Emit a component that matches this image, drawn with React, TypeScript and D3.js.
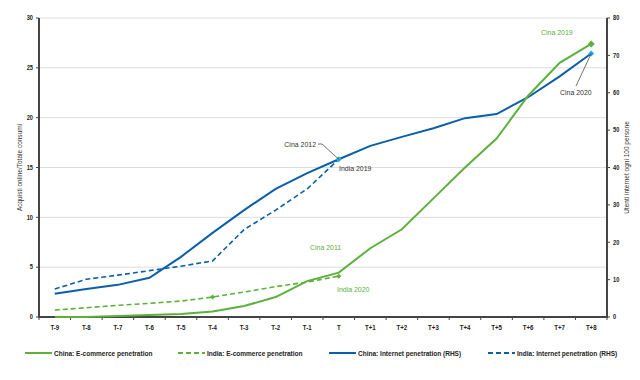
import React from "react";
import * as d3 from "d3";

const categories = ["T-9","T-8","T-7","T-6","T-5","T-4","T-3","T-2","T-1","T","T+1","T+2","T+3","T+4","T+5","T+6","T+7","T+8"];
const chinaEcom = [0, 0, 0.1, 0.2, 0.3, 0.55, 1.1, 2.0, 3.6, 4.45, 6.9, 8.8, 11.9, 15.0, 17.9, 22.2, 25.5, 27.4];
const indiaEcom: (number | null)[] = [0.7, 0.93, 1.17, 1.37, 1.6, 2.0, 2.5, 3.05, 3.5, 4.1, null, null, null, null, null, null, null, null];
const chinaNet = [6.2, 7.5, 8.6, 10.5, 16.1, 22.5, 28.6, 34.3, 38.5, 42.2, 45.8, 48.2, 50.5, 53.2, 54.3, 58.8, 64.4, 70.5];
const indiaNet: (number | null)[] = [7.5, 10.1, 11.2, 12.4, 13.6, 15.0, 23.4, 28.6, 34.3, 42.2, null, null, null, null, null, null, null, null];
const leftTicks = [0, 5, 10, 15, 20, 25, 30];
const rightTicks = [0, 10, 20, 30, 40, 50, 60, 70, 80];

const GREEN = "#5cb03c";
const BLUE = "#0b5fa8";
const LIGHTBLUE = "#2aa7e0";
const FONT = "'Liberation Sans', Arial, sans-serif";
const SX = 0.87;

function NText(props: { x: number; y: number; anchor?: string; size: number; fill: string; bold?: boolean; rotate?: number; dy?: string; children: React.ReactNode }) {
  const { x, y, anchor = "start", size, fill, bold, rotate, dy, children } = props;
  return (
    <text
      transform={`translate(${x},${y})${rotate ? ` rotate(${rotate})` : ""} scale(${SX},1)`}
      textAnchor={anchor}
      fontSize={size}
      fontWeight={bold ? "bold" : "normal"}
      fill={fill}
      dy={dy}
    >
      {children}
    </text>
  );
}

export default function App() {
  const W = 640, H = 380;
  const L = 39, R = 607, T = 18, B = 317;
  const x = d3.scaleBand<string>().domain(categories).range([L, R]);
  const cx = (c: string) => (x(c) as number) + x.bandwidth() / 2;
  const yL = d3.scaleLinear().domain([0, 30]).range([B, T]);
  const yR = d3.scaleLinear().domain([0, 80]).range([B, T]);

  const lineL = d3.line<number | null>()
    .defined((d) => d !== null)
    .x((_, i) => cx(categories[i]))
    .y((d) => yL(d as number));
  const lineR = d3.line<number | null>()
    .defined((d) => d !== null)
    .x((_, i) => cx(categories[i]))
    .y((d) => yR(d as number));

  const diamond = (px: number, py: number, s: number) =>
    `M${px},${py - s}L${px + s},${py}L${px},${py + s}L${px - s},${py}Z`;

  const iT = categories.indexOf("T");
  const iT4 = categories.indexOf("T-4");
  const iEnd = categories.length - 1;

  const legend = [
    { label: "China: E-commerce penetration", color: GREEN, dash: "", x: 25 },
    { label: "India: E-commerce penetration", color: GREEN, dash: "5,3", x: 178 },
    { label: "China: Internet penetration (RHS)", color: BLUE, dash: "", x: 329 },
    { label: "India: Internet penetration (RHS)", color: BLUE, dash: "5,3", x: 488 },
  ];

  return (
    <svg width={W} height={H} style={{ position: "absolute", left: 0, top: 0, background: "#fff" }} fontFamily={FONT}>
      {leftTicks.filter((t) => t > 0).map((t) => (
        <line key={"g" + t} x1={L} x2={R} y1={yL(t)} y2={yL(t)} stroke="#dcdcdc" strokeWidth={1} />
      ))}
      <line x1={L} x2={L} y1={T} y2={B} stroke="#444" strokeWidth={2} />
      <line x1={R} x2={R} y1={T} y2={B} stroke="#444" strokeWidth={2} />
      <line x1={L - 1} x2={R + 1} y1={B} y2={B} stroke="#444" strokeWidth={2} />
      {leftTicks.map((t) => (
        <g key={"l" + t}>
          <line x1={L - 3} x2={L} y1={yL(t)} y2={yL(t)} stroke="#444" />
          <NText x={L - 6} y={yL(t)} dy="0.35em" anchor="end" size={6.5} bold fill="#222">{t}</NText>
        </g>
      ))}
      {rightTicks.map((t) => (
        <g key={"r" + t}>
          <line x1={R} x2={R + 3} y1={yR(t)} y2={yR(t)} stroke="#444" />
          <NText x={R + 6} y={yR(t)} dy="0.35em" size={6.5} bold fill="#222">{t}</NText>
        </g>
      ))}
      {categories.map((c) => (
        <g key={c}>
          <line x1={x(c) as number} x2={x(c) as number} y1={B} y2={B + 3} stroke="#444" />
          <NText x={cx(c)} y={B + 13} anchor="middle" size={7} bold fill="#222">{c}</NText>
        </g>
      ))}
      <line x1={R} x2={R} y1={B} y2={B + 3} stroke="#444" />
      <NText x={22} y={(T + B) / 2} rotate={-90} anchor="middle" size={7.5} fill="#333">Acquisti online/Totale consumi</NText>
      <NText x={629} y={(T + B) / 2} rotate={-90} anchor="middle" size={7.5} fill="#333">Utenti internet ogni 100 persone</NText>

      <path d={lineR(indiaNet) || ""} fill="none" stroke={BLUE} strokeWidth={1.6} strokeDasharray="5,3" />
      <path d={lineR(chinaNet) || ""} fill="none" stroke={BLUE} strokeWidth={2} />
      <path d={lineL(indiaEcom) || ""} fill="none" stroke={GREEN} strokeWidth={1.6} strokeDasharray="5,3" />
      <path d={lineL(chinaEcom) || ""} fill="none" stroke={GREEN} strokeWidth={2} />

      <path d={diamond(cx(categories[iT4]), yL(indiaEcom[iT4] as number), 2.5)} fill={GREEN} />
      <path d={diamond(cx(categories[iT]), yL(indiaEcom[iT] as number), 2.5)} fill={GREEN} />
      <path d={diamond(cx(categories[iEnd]), yL(chinaEcom[iEnd]), 3.5)} fill={GREEN} />
      <path d={diamond(cx(categories[iT]), yR(chinaNet[iT]), 3)} fill={LIGHTBLUE} />
      <path d={diamond(cx(categories[iEnd]), yR(chinaNet[iEnd]), 3)} fill={LIGHTBLUE} />

      <NText x={316} y={147} anchor="end" size={8} fill="#333">Cina 2012</NText>
      <polyline points={`318,144 322,144 ${cx("T")},${yR(chinaNet[iT])}`} fill="none" stroke="#333" strokeWidth={0.7} />
      <NText x={339} y={171} size={8} fill="#333">India 2019</NText>
      <NText x={310} y={250} size={8} fill={GREEN}>Cina 2011</NText>
      <NText x={337} y={292} size={8} fill={GREEN}>India 2020</NText>
      <NText x={541} y={35} size={8} fill={GREEN}>Cina 2019</NText>
      <NText x={560} y={95} size={8} fill="#333">Cina 2020</NText>
      <line x1={576} y1={86} x2={cx("T+8")} y2={yR(chinaNet[iEnd])} stroke="#333" strokeWidth={0.7} />

      {legend.map((l) => (
        <g key={l.label}>
          <line x1={l.x} x2={l.x + 27} y1={353} y2={353} stroke={l.color} strokeWidth={2} strokeDasharray={l.dash} />
          <NText x={l.x + 29} y={353} dy="0.35em" size={7.5} bold fill="#222">{l.label}</NText>
        </g>
      ))}
    </svg>
  );
}
